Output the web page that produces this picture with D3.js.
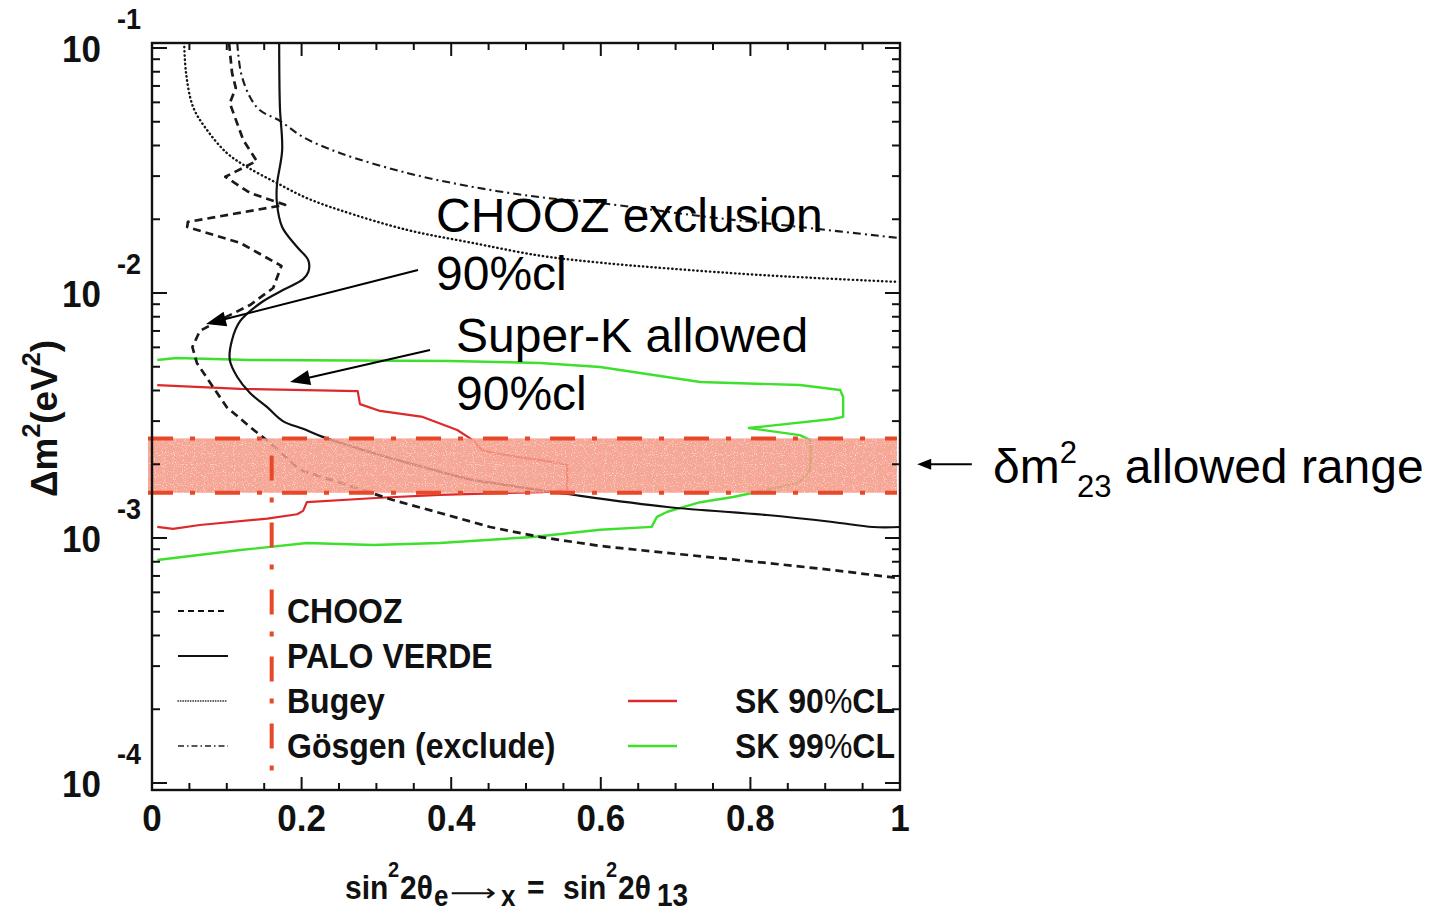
<!DOCTYPE html>
<html>
<head>
<meta charset="utf-8">
<script src="https://cdn.jsdelivr.net/npm/d3@7"></script>
<style>
  html, body { margin: 0; padding: 0; background: #fff; }
  svg { display: block; }
</style>
</head>
<body>
<svg id="chart" width="1429" height="913"></svg>
<script>
// Reactor and Super-K contours in the (sin^2 2θ13, Δm^2) plane.
// Each point is [sin^2 2θ, Δm^2 in eV^2].
const chooz = [
  [0.103,0.105],[0.107,0.0791],[0.112,0.0687],[0.104,0.0596],[0.122,0.0421],[0.140,0.0346],
  [0.098,0.0298],[0.131,0.0256],[0.178,0.0229],[0.048,0.0195],[0.047,0.0186],[0.118,0.0160],
  [0.173,0.0129],[0.162,0.01048],[0.131,0.00893],[0.091,0.00776],[0.064,0.00700],[0.054,0.00602],
  [0.060,0.00518],[0.078,0.00429],[0.100,0.00342],[0.131,0.00284],[0.158,0.00244],[0.198,0.001895],
  [0.269,0.001615],[0.322,0.001429],[0.385,0.001265],[0.452,0.001109],[0.519,0.001009],[0.599,0.000928],
  [0.689,0.000869],[0.822,0.000791],[0.910,0.000740],[0.996,0.000687]
];
const paloVerde = [
  [0.170,0.105],[0.171,0.0574],[0.174,0.0383],[0.167,0.0276],[0.167,0.0233],[0.174,0.0186],
  [0.194,0.0154],[0.209,0.0136],[0.209,0.0122],[0.202,0.0114],[0.175,0.01028],[0.147,0.00919],
  [0.118,0.00769],[0.107,0.00643],[0.104,0.00533],[0.114,0.00454],[0.131,0.00391],[0.154,0.00342],
  [0.175,0.00300],[0.202,0.00279],[0.229,0.00258],[0.296,0.00222],[0.362,0.00195],[0.429,0.001725],
  [0.465,0.00166],[0.555,0.001512],[0.689,0.001338],[0.822,0.001241],[0.910,0.001162],[0.964,0.001109],
  [1.0,0.001109]
];
const bugey = [
  [0.043,0.105],[0.0455,0.0791],[0.055,0.0574],[0.0735,0.0463],[0.100,0.0373],[0.127,0.0327],
  [0.167,0.0281],[0.207,0.0244],[0.251,0.0218],[0.341,0.0181],[0.429,0.0160],[0.519,0.0142],
  [0.599,0.0133],[0.689,0.0126],[0.822,0.0118],[0.996,0.0111]
];
const gosgen = [
  [0.114,0.105],[0.119,0.0791],[0.131,0.0631],[0.144,0.0558],[0.171,0.0504],[0.202,0.0433],
  [0.251,0.0373],[0.341,0.0309],[0.429,0.0271],[0.519,0.0246],[0.599,0.0233],[0.733,0.0206],
  [0.866,0.0186],[0.996,0.0168]
];
const sk90 = [
  [0.007,0.00421],[0.118,0.00406],[0.275,0.00398],[0.278,0.00352],[0.305,0.00330],[0.362,0.00312],
  [0.408,0.00276],[0.429,0.00251],[0.441,0.00229],[0.456,0.00222],[0.519,0.00208],[0.555,0.00199],
  [0.555,0.00157],[0.523,0.00154],[0.385,0.00150],[0.305,0.00146],[0.207,0.00140],[0.202,0.00129],
  [0.194,0.00125],[0.154,0.00120],[0.064,0.00113],[0.028,0.00109],[0.007,0.00111]
];
const sk99 = [
  [0.007,0.00533],[0.033,0.00543],[0.131,0.00533],[0.398,0.00528],[0.519,0.00518],[0.599,0.00499],
  [0.733,0.00433],[0.866,0.00421],[0.920,0.00402],[0.924,0.00376],[0.924,0.00312],[0.910,0.00306],
  [0.798,0.00281],[0.866,0.00263],[0.880,0.00251],[0.881,0.00235],[0.880,0.001895],[0.866,0.00169],
  [0.822,0.00157],[0.777,0.00147],[0.733,0.00140],[0.689,0.00128],[0.675,0.00122],[0.668,0.00111],
  [0.599,0.00108],[0.509,0.00101],[0.385,0.000954],[0.296,0.000936],[0.207,0.000954],[0.118,0.000893],
  [0.007,0.000813]
];

// Atmospheric δm^2_23 band and the θ13 bound it implies
const dm23Range = [1.53e-3, 2.55e-3];
const dm23Center = 2.0e-3;
const theta13Limit = 0.16;

// Axis ticks and labels
const xMajorTicks = [0, 0.2, 0.4, 0.6, 0.8, 1];
const xTickLabels = ["0", "0.2", "0.4", "0.6", "0.8", "1"];
const yDecades = [1e-4, 1e-3, 1e-2, 1e-1];
const yExponents = ["-4", "-3", "-2", "-1"];

// Legend entries
const legendLeft = ["CHOOZ", "PALO VERDE", "Bugey", "Gösgen (exclude)"];
const legendRight = ["SK 90%CL", "SK 99%CL"];

// Annotation arrows: [tail, tip] in data coordinates
const choozArrow = [[0.3556, 0.01241], [0.0722, 0.00747]];
const superKArrow = [[0.3717, 0.00585], [0.1845, 0.00433]];
const bandArrow = [[1.096, dm23Center], [1.023, dm23Center]];

// ---------------------------------------------------------------------
const svg = d3.select("#chart");
const FONT = "'Liberation Sans', Arial, Helvetica, sans-serif";

const x = d3.scaleLinear().domain([0, 1]).range([152, 900]);
const y = d3.scaleLog().domain([1e-4, 1e-1]).range([783, 48]);

const frameTop = y(1e-1) - 5, frameBottom = y(1e-4) + 7;
const frameLeft = x(0), frameRight = x(1);

svg.append("rect").attr("width", 1429).attr("height", 913).attr("fill", "#fff");

const defs = svg.append("defs");
defs.append("clipPath").attr("id", "plotClip")
  .append("rect")
  .attr("x", frameLeft).attr("y", frameTop)
  .attr("width", frameRight - frameLeft).attr("height", frameBottom - frameTop);

const plot = svg.append("g").attr("clip-path", "url(#plotClip)");

const lineLinear = d3.line().x(d => x(d[0])).y(d => y(d[1]));
const lineSmooth = d3.line().x(d => x(d[0])).y(d => y(d[1])).curve(d3.curveCatmullRom.alpha(0.5));

const styles = {
  chooz:  { stroke: "#1a1a1a", width: 2.7, dash: "8,5", cap: "butt" },
  palo:   { stroke: "#111",    width: 2.2, dash: null, cap: "butt" },
  bugey:  { stroke: "#151515", width: 2.4, dash: "0.4,3.8", cap: "round" },
  gosgen: { stroke: "#1a1a1a", width: 2.1, dash: "8,4,2,4", cap: "butt" },
  sk90:   { stroke: "#dc2a2c", width: 2.2, dash: null, cap: "butt" },
  sk99:   { stroke: "#3de02c", width: 2.4, dash: null, cap: "butt" }
};

function drawCurve(data, st, gen) {
  plot.append("path")
    .attr("d", gen(data))
    .attr("fill", "none")
    .attr("stroke", st.stroke)
    .attr("stroke-width", st.width)
    .attr("stroke-dasharray", st.dash)
    .attr("stroke-linecap", st.cap)
    .attr("stroke-linejoin", "round");
}

drawCurve(sk99, styles.sk99, lineLinear);
drawCurve(sk90, styles.sk90, lineLinear);
drawCurve(bugey, styles.bugey, lineSmooth);
drawCurve(gosgen, styles.gosgen, lineSmooth);
drawCurve(chooz, styles.chooz, lineLinear);
drawCurve(paloVerde, styles.palo, lineSmooth);

// Speckled fill for the δm^2_23 band
const filt = defs.append("filter").attr("id", "speckle").attr("x", 0).attr("y", 0).attr("width", 1).attr("height", 1);
filt.append("feTurbulence").attr("type", "fractalNoise").attr("baseFrequency", 0.9).attr("numOctaves", 1).attr("seed", 3).attr("result", "noise");
filt.append("feColorMatrix").attr("in", "noise").attr("type", "matrix")
  .attr("values", "0 0 0 0 1  0 0 0 0 1  0 0 0 0 1  0 0 0 -3 1.3").attr("result", "dots");
filt.append("feComposite").attr("in", "dots").attr("in2", "SourceGraphic").attr("operator", "in").attr("result", "dotsIn");
filt.append("feMerge").selectAll("feMergeNode").data(["SourceGraphic", "dotsIn"]).join("feMergeNode").attr("in", d => d);

const bandLeft = x(0) - 4, bandRight = x(1) - 3;
svg.append("rect")
  .attr("x", bandLeft).attr("y", y(dm23Range[1]))
  .attr("width", bandRight - bandLeft)
  .attr("height", y(dm23Range[0]) - y(dm23Range[1]))
  .attr("fill", "#f59985")
  .attr("fill-opacity", 0.87)
  .attr("filter", "url(#speckle)");

const bandLine = { stroke: "#e8482a", width: 4, dash: "25,17,5,20" };
dm23Range.forEach(v => {
  svg.append("line")
    .attr("x1", bandLeft).attr("x2", bandRight)
    .attr("y1", y(v)).attr("y2", y(v))
    .attr("stroke", bandLine.stroke).attr("stroke-width", bandLine.width)
    .attr("stroke-dasharray", bandLine.dash);
});
svg.append("line")
  .attr("x1", x(theta13Limit)).attr("x2", x(theta13Limit))
  .attr("y1", y(dm23Range[1])).attr("y2", frameBottom)
  .attr("stroke", bandLine.stroke).attr("stroke-width", bandLine.width)
  .attr("stroke-dasharray", bandLine.dash)
  .attr("stroke-dashoffset", 50);

// Frame and ticks
const axisG = svg.append("g").attr("stroke", "#111").attr("fill", "none");
axisG.append("rect")
  .attr("x", frameLeft).attr("y", frameTop)
  .attr("width", frameRight - frameLeft).attr("height", frameBottom - frameTop)
  .attr("stroke-width", 2.4);

const xMinor = d3.range(0, 21).map(i => i * 0.05);
xMinor.forEach(v => {
  const major = xMajorTicks.some(m => Math.abs(m - v) < 1e-6);
  const len = major ? 13 : 7;
  axisG.append("line").attr("x1", x(v)).attr("x2", x(v))
    .attr("y1", frameBottom).attr("y2", frameBottom - len).attr("stroke-width", 2);
  axisG.append("line").attr("x1", x(v)).attr("x2", x(v))
    .attr("y1", frameTop).attr("y2", frameTop + len).attr("stroke-width", 2);
});

const yTickVals = [];
yDecades.forEach((d, i) => {
  if (i < yDecades.length - 1) {
    for (let k = 1; k <= 9; k++) yTickVals.push({ v: d * k, major: k === 1 });
  } else {
    yTickVals.push({ v: d, major: true });
  }
});
yTickVals.forEach(t => {
  const len = t.major ? 15 : 8;
  axisG.append("line").attr("x1", frameLeft).attr("x2", frameLeft + len)
    .attr("y1", y(t.v)).attr("y2", y(t.v)).attr("stroke-width", 2);
  axisG.append("line").attr("x1", frameRight).attr("x2", frameRight - len)
    .attr("y1", y(t.v)).attr("y2", y(t.v)).attr("stroke-width", 2);
});

// Bold plot text, slightly tall as in the original figure
const STRETCH = 1.08;
function boldText(px, py, size, anchor, stretch) {
  return svg.append("text")
    .attr("transform", `translate(${px},${py}) scale(1,${stretch || STRETCH})`)
    .attr("font-family", FONT).attr("font-weight", "bold")
    .attr("font-size", size).attr("text-anchor", anchor || "start")
    .attr("fill", "#111");
}

xMajorTicks.forEach((v, i) => {
  boldText(x(v), 831, 35, "middle").text(xTickLabels[i]);
});
yDecades.forEach((d, i) => {
  boldText(101, y(d) + 14, 35, "end").text("10");
  boldText(117, y(d) - 19, 27, "start").text(yExponents[i]);
});

// x-axis title, laid out piece by piece
const xt = boldText(345, 899, 30, "start", 1.12);
xt.append("tspan").attr("x", 0).attr("y", 0).text("sin");
xt.append("tspan").attr("x", 43).attr("y", -20).attr("font-size", 20).text("2");
xt.append("tspan").attr("x", 55).attr("y", 0).text("2θ");
xt.append("tspan").attr("x", 89).attr("y", 6).attr("font-size", 26).text("e");
xt.append("tspan").attr("x", 156).attr("y", 6).attr("font-size", 26).text("x");
xt.append("tspan").attr("x", 182).attr("y", 0).text("=");
xt.append("tspan").attr("x", 218).attr("y", 0).text("sin");
xt.append("tspan").attr("x", 261).attr("y", -20).attr("font-size", 20).text("2");
xt.append("tspan").attr("x", 273).attr("y", 0).text("2θ");
xt.append("tspan").attr("x", 312).attr("y", 6).attr("font-size", 28).text("13");

// long arrow inside the e→x subscript
svg.append("text")
  .attr("transform", "translate(450,901) scale(1.35,1)")
  .attr("font-family", "'DejaVu Sans', sans-serif")
  .attr("font-size", 24).attr("fill", "#111").text("⟶");

// y-axis title
const yt = svg.append("text")
  .attr("transform", `translate(57,${(frameTop + frameBottom) / 2 + 2}) rotate(-90)`)
  .attr("font-family", FONT).attr("font-weight", "bold")
  .attr("font-size", 37).attr("text-anchor", "middle").attr("fill", "#111");
yt.append("tspan").text("Δm");
yt.append("tspan").attr("font-size", 25).attr("dy", -17).text("2");
yt.append("tspan").attr("dy", 17).text("(eV");
yt.append("tspan").attr("font-size", 25).attr("dy", -17).text("2");
yt.append("tspan").attr("dy", 17).text(")");

// Legend
const legendStyles = [
  { stroke: "#111", width: 1.8, dash: "6,4", cap: "butt" },
  { stroke: "#111", width: 2.2, dash: null, cap: "butt" },
  { stroke: "#222", width: 1.6, dash: "0.3,2.2", cap: "round" },
  { stroke: "#222", width: 1.6, dash: "6,3,1.5,3", cap: "butt" }
];
const legendRows = [611, 656, 701, 746];
legendLeft.forEach((name, i) => {
  svg.append("line").attr("x1", 178).attr("x2", 228)
    .attr("y1", legendRows[i]).attr("y2", legendRows[i])
    .attr("stroke", legendStyles[i].stroke).attr("stroke-width", legendStyles[i].width)
    .attr("stroke-dasharray", legendStyles[i].dash)
    .attr("stroke-linecap", legendStyles[i].cap);
  boldText(287, legendRows[i] + 12, 32, "start").text(name);
});
const legendRightStyles = [styles.sk90.stroke, styles.sk99.stroke];
legendRight.forEach((name, i) => {
  const row = legendRows[2 + i];
  svg.append("line").attr("x1", 628).attr("x2", 677)
    .attr("y1", row).attr("y2", row)
    .attr("stroke", legendRightStyles[i]).attr("stroke-width", 2.4);
  const t = boldText(735, row + 12, 32, "start");
  const parts = name.split("%");
  t.append("tspan").text(parts[0]);
  t.append("tspan").attr("font-weight", "normal").text("%");
  t.append("tspan").text(parts[1]);
});

// Annotations
function annot(px, py, str) {
  return svg.append("text").attr("x", px).attr("y", py)
    .attr("font-family", FONT).attr("font-size", 48).attr("fill", "#000").text(str);
}
annot(436, 232, "CHOOZ exclusion");
annot(436, 290, "90%cl");
annot(456, 352, "Super-K allowed");
annot(456, 410, "90%cl");

function arrow(pts, headLen, headHalf, width) {
  const [x1, y1] = [x(pts[0][0]), y(pts[0][1])];
  const [x2, y2] = [x(pts[1][0]), y(pts[1][1])];
  const dx = x2 - x1, dy = y2 - y1, L = Math.hypot(dx, dy);
  const ux = dx / L, uy = dy / L;
  const bx = x2 - ux * headLen, by = y2 - uy * headLen;
  svg.append("line").attr("x1", x1).attr("y1", y1).attr("x2", bx + ux * 2).attr("y2", by + uy * 2)
    .attr("stroke", "#000").attr("stroke-width", width);
  svg.append("path")
    .attr("d", `M${x2},${y2}L${bx - uy * headHalf},${by + ux * headHalf}L${bx + uy * headHalf},${by - ux * headHalf}Z`)
    .attr("fill", "#000");
}
arrow(choozArrow, 20, 7.5, 2);
arrow(superKArrow, 20, 7.5, 2);
arrow(bandArrow, 14, 5.5, 2);

const bt = svg.append("text").attr("x", 993).attr("y", 483)
  .attr("font-family", FONT).attr("font-size", 48).attr("fill", "#000");
bt.append("tspan").text("δm");
bt.append("tspan").attr("font-size", 31).attr("dy", -20).text("2");
bt.append("tspan").attr("font-size", 31).attr("dy", 34).text("23");
bt.append("tspan").attr("dy", -14).text(" allowed range");
</script>
</body>
</html>
